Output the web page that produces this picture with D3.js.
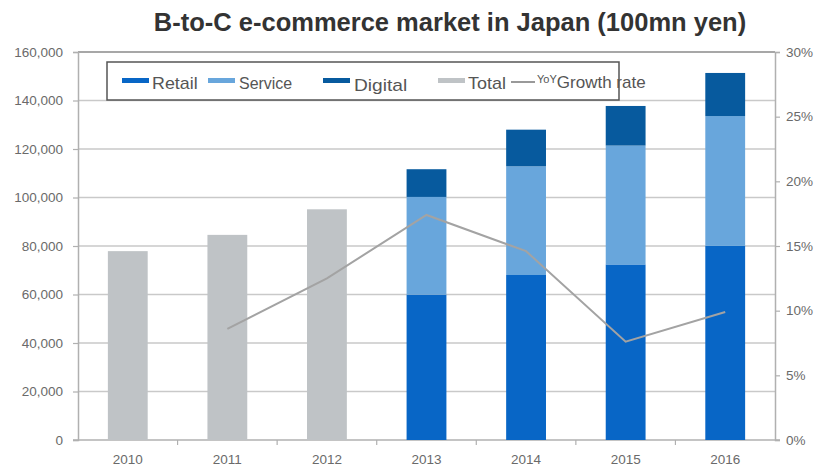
<!DOCTYPE html>
<html>
<head>
<meta charset="utf-8">
<script src="https://cdn.jsdelivr.net/npm/d3@7/dist/d3.min.js"></script>
<style>
  html, body { margin: 0; padding: 0; background: #fff; }
  svg { display: block; font-family: "Liberation Sans", Arial, sans-serif; }
</style>
</head>
<body>
<svg id="chart" width="819" height="469"></svg>
<script>
// B-to-C e-commerce market in Japan, 100 million yen
const years = ["2010", "2011", "2012", "2013", "2014", "2015", "2016"];
const totalOnly = [77880, 84590, 95130, null, null, null, null];
const retail = [null, null, null, 59931, 68043, 72398, 80043];
const service = [null, null, null, 40300, 44816, 49014, 53532];
const digital = [null, null, null, 11429, 15111, 16334, 17782];
const growth = [null, 8.6, 12.5, 17.4, 14.6, 7.6, 9.9];
const leftTicks = [0, 20000, 40000, 60000, 80000, 100000, 120000, 140000, 160000];
const rightTicks = [0, 5, 10, 15, 20, 25, 30];

const colors = {
  retail: "#0866c6",
  service: "#68a6dc",
  digital: "#075a9e",
  total: "#bfc3c6",
  line: "#a3a3a3"
};

const svg = d3.select("#chart");
const m = { left: 78, right: 775, top: 52, bottom: 440 };

const x = d3.scaleBand().domain(years).range([m.left, m.right]).paddingInner(0.6).paddingOuter(0.3);
const xc = d => x(d) + x.bandwidth() / 2;
const y = d3.scaleLinear().domain([0, 160000]).range([m.bottom, m.top]);
const y2 = d3.scaleLinear().domain([0, 30]).range([m.bottom, m.top]);

// title
svg.append("text")
  .attr("x", 450).attr("y", 31)
  .attr("text-anchor", "middle")
  .attr("font-size", 25.5).attr("font-weight", "bold")
  .attr("fill", "#333")
  .text("B-to-C e-commerce market in Japan (100mn yen)");

// horizontal gridlines
svg.append("g").selectAll("line").data(leftTicks.filter(d => d > 0)).join("line")
  .attr("x1", m.left).attr("x2", m.right)
  .attr("y1", d => y(d)).attr("y2", d => y(d))
  .attr("stroke", d => d === 160000 ? "#8a8a8a" : "#c9c9c9")
  .attr("stroke-width", 1.5);

const axisFont = sel => sel.attr("font-size", 13.5).attr("fill", "#6a6a6a")
  .attr("font-family", "Liberation Sans, Arial, sans-serif");

// left axis
const gl = svg.append("g").attr("transform", `translate(${m.left},0)`)
  .call(d3.axisLeft(y).tickValues(leftTicks).tickSize(5).tickPadding(10)
    .tickFormat(d3.format(",")));
gl.select(".domain").attr("stroke", "#b0b0b0").attr("stroke-width", 1.5);
gl.selectAll(".tick line").attr("stroke", "#b0b0b0").attr("stroke-width", 1.2);
gl.selectAll("text").call(axisFont);

// right axis
const gr = svg.append("g").attr("transform", `translate(${m.right},0)`)
  .call(d3.axisRight(y2).tickValues(rightTicks).tickSize(5).tickPadding(6)
    .tickFormat(d => d + "%"));
gr.select(".domain").attr("stroke", "#b0b0b0").attr("stroke-width", 1.5);
gr.selectAll(".tick line").attr("stroke", "#b0b0b0").attr("stroke-width", 1.2);
gr.selectAll("text").call(axisFont);

// bottom axis with ticks between categories
const gb = svg.append("g").attr("transform", `translate(0,${m.bottom})`)
  .call(d3.axisBottom(x).tickSize(0).tickPadding(14));
gb.select(".domain").attr("stroke", "#b0b0b0").attr("stroke-width", 1.5)
  .attr("d", `M${m.left - 5},0H${m.right + 5}`);
gb.selectAll("text").call(axisFont);
const step = x.step();
svg.append("g").selectAll("line").data(years.slice(1)).join("line")
  .attr("x1", d => x(d) - x.paddingInner() * step / 2)
  .attr("x2", d => x(d) - x.paddingInner() * step / 2)
  .attr("y1", m.bottom).attr("y2", m.bottom + 5)
  .attr("stroke", "#b0b0b0").attr("stroke-width", 1.2);

// grey total bars
svg.append("g").selectAll("rect")
  .data(years.map((yr, i) => ({ yr, v: totalOnly[i] })).filter(d => d.v != null))
  .join("rect")
  .attr("x", d => x(d.yr)).attr("width", x.bandwidth())
  .attr("y", d => y(d.v)).attr("height", d => y(0) - y(d.v))
  .attr("fill", colors.total);

// stacked bars
const rows = years.map((yr, i) => ({ yr, retail: retail[i], service: service[i], digital: digital[i] }))
  .filter(d => d.retail != null);
const stack = d3.stack().keys(["retail", "service", "digital"])(rows);
svg.append("g").selectAll("g").data(stack).join("g")
  .attr("fill", s => colors[s.key])
  .selectAll("rect").data(s => s).join("rect")
  .attr("x", d => x(d.data.yr)).attr("width", x.bandwidth())
  .attr("y", d => y(d[1])).attr("height", d => y(d[0]) - y(d[1]));

// growth line on the right axis
const pts = years.map((yr, i) => ({ yr, g: growth[i] })).filter(d => d.g != null);
svg.append("path").datum(pts)
  .attr("fill", "none").attr("stroke", colors.line).attr("stroke-width", 2)
  .attr("d", d3.line().x(d => xc(d.yr)).y(d => y2(d.g)));

// legend
const lg = svg.append("g");
lg.append("rect").attr("x", 107).attr("y", 62).attr("width", 512).attr("height", 38)
  .attr("fill", "#fff").attr("stroke", "#555").attr("stroke-width", 1.5);
const items = [
  { label: "Retail", color: colors.retail, sx: 122, tx: 152, ty: 89 },
  { label: "Service", color: colors.service, sx: 208, tx: 239, ty: 89 },
  { label: "Digital", color: colors.digital, sx: 323, tx: 354, ty: 91 },
  { label: "Total", color: colors.total, sx: 438, tx: 468, ty: 89 }
];
items.forEach(it => {
  lg.append("rect").attr("x", it.sx).attr("y", 78).attr("width", 27).attr("height", 5).attr("fill", it.color);
  lg.append("text").attr("x", it.tx).attr("y", it.ty).attr("font-size", 17).attr("fill", "#555")
    .attr("textLength", it.label.length * 7.6).attr("lengthAdjust", "spacingAndGlyphs")
    .text(it.label);
});
lg.append("line").attr("x1", 511).attr("x2", 535).attr("y1", 82).attr("y2", 82)
  .attr("stroke", "#777").attr("stroke-width", 1.5);
const gt = lg.append("text").attr("x", 537).attr("y", 88).attr("fill", "#555");
gt.append("tspan").attr("font-size", 11).attr("dy", -5).text("YoY");
gt.append("tspan").attr("font-size", 17).attr("dy", 5).text("Growth rate");
</script>
</body>
</html>
